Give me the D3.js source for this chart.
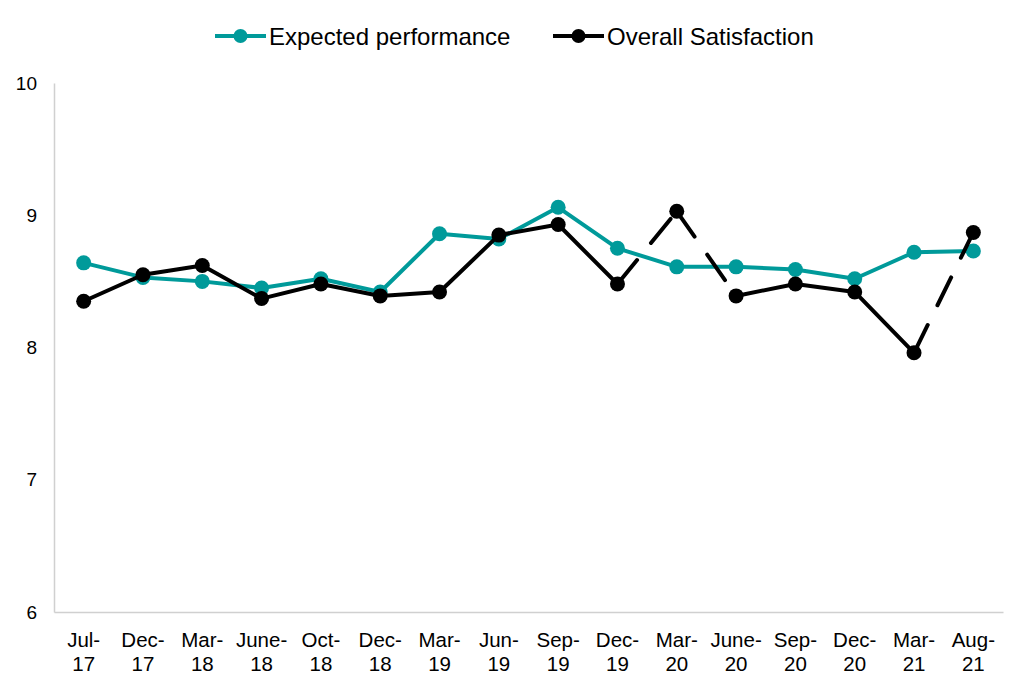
<!DOCTYPE html>
<html>
<head>
<meta charset="utf-8">
<script src="https://cdn.jsdelivr.net/npm/d3@7"></script>
<style>
  body { margin: 0; background: #fff; }
  text { font-family: "Liberation Sans", Arial, sans-serif; fill: #000; }
</style>
</head>
<body>
<div id="chart"></div>
<script>
// Survey waves (two-line labels)
const categories = ["Jul-17", "Dec-17", "Mar-18", "June-18", "Oct-18", "Dec-18", "Mar-19", "Jun-19",
  "Sep-19", "Dec-19", "Mar-20", "June-20", "Sep-20", "Dec-20", "Mar-21", "Aug-21"];

const expectedPerformance = [8.64, 8.53, 8.50, 8.45, 8.52, 8.42, 8.86, 8.82,
  9.06, 8.75, 8.61, 8.61, 8.59, 8.52, 8.72, 8.73];

const overallSatisfaction = [8.35, 8.55, 8.62, 8.37, 8.48, 8.39, 8.42, 8.85,
  8.93, 8.48, 9.03, 8.39, 8.48, 8.42, 7.96, 8.87];

// segments (start index) of Overall Satisfaction drawn dashed
const dashedSegments = [9, 10, 14];

const yTicks = [6, 7, 8, 9, 10];

const series = [
  { name: "Expected performance", values: expectedPerformance, color: "#009a9a", dashed: [] },
  { name: "Overall Satisfaction", values: overallSatisfaction, color: "#000000", dashed: dashedSegments }
];

const width = 1024, height = 692;
const margins = { top: 83, right: 21, bottom: 80, left: 54 };
const innerWidth = width - margins.left - margins.right;
const innerHeight = height - margins.top - margins.bottom;

const svg = d3.select("#chart").append("svg")
  .attr("width", width)
  .attr("height", height);

const g = svg.append("g")
  .attr("transform", `translate(${margins.left},${margins.top})`);

const xScale = d3.scaleBand()
  .domain(categories)
  .range([0, innerWidth]);

const yScale = d3.scaleLinear()
  .domain([6, 10])
  .range([innerHeight, 0]);

const xc = d => xScale(d) + xScale.bandwidth() / 2;

// axes
const yAxis = d3.axisLeft(yScale)
  .tickValues(yTicks)
  .tickFormat(d3.format("d"))
  .tickSize(0)
  .tickPadding(17);
const yG = g.append("g").attr("class", "y axis").call(yAxis);
yG.select(".domain").attr("stroke", "#d0d0d0").attr("stroke-width", 1.5);
yG.selectAll("text").style("font-size", "19px");

const xAxis = d3.axisBottom(xScale).tickSize(0).tickPadding(0);
const xG = g.append("g").attr("class", "x axis")
  .attr("transform", `translate(0,${innerHeight})`)
  .call(xAxis);
xG.select(".domain").attr("stroke", "#d0d0d0").attr("stroke-width", 1.5);
xG.selectAll("text").each(function (d) {
  const parts = d.split("-");
  const t = d3.select(this).text(null).attr("dy", null).attr("y", null)
    .style("font-size", "20.5px");
  t.append("tspan").attr("x", 0).attr("y", 35).text(parts[0] + "-");
  t.append("tspan").attr("x", 0).attr("y", 59).text(parts[1]);
});

// lines + markers
series.forEach(s => {
  const sg = g.append("g").attr("class", "series");
  for (let i = 0; i < s.values.length - 1; i++) {
    sg.append("line")
      .attr("x1", xc(categories[i]))
      .attr("y1", yScale(s.values[i]))
      .attr("x2", xc(categories[i + 1]))
      .attr("y2", yScale(s.values[i + 1]))
      .attr("stroke", s.color)
      .attr("stroke-width", 4)
      .attr("stroke-linecap", "round")
      .attr("stroke-dasharray", s.dashed.includes(i) ? "31,22" : null);
  }
  sg.selectAll("circle")
    .data(s.values)
    .enter().append("circle")
    .attr("cx", (d, i) => xc(categories[i]))
    .attr("cy", d => yScale(d))
    .attr("r", 7.5)
    .attr("fill", s.color);
});

// legend
const legendItems = [
  { x: 215, textX: 269 },
  { x: 553, textX: 607 }
];
series.forEach((s, i) => {
  const lg = svg.append("g").attr("transform", `translate(0,36)`);
  lg.append("line")
    .attr("x1", legendItems[i].x).attr("x2", legendItems[i].x + 51)
    .attr("y1", 0).attr("y2", 0)
    .attr("stroke", s.color).attr("stroke-width", 4);
  lg.append("circle")
    .attr("cx", legendItems[i].x + 25.5).attr("cy", 0).attr("r", 7)
    .attr("fill", s.color);
  lg.append("text")
    .attr("x", legendItems[i].textX).attr("y", 0)
    .attr("dy", "0.36em")
    .style("font-size", "24px")
    .text(s.name);
});
</script>
</body>
</html>
